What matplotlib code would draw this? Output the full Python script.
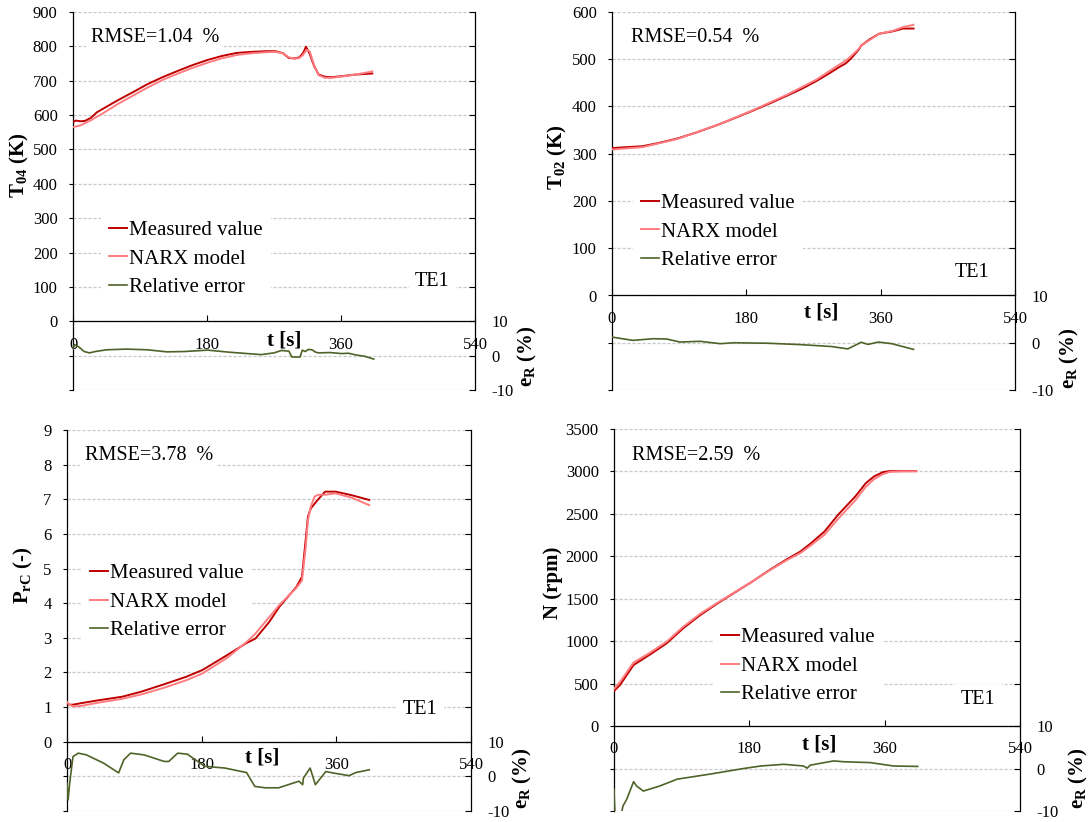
import matplotlib
matplotlib.use("Agg")
import matplotlib.pyplot as plt
import numpy as np

plt.rcParams["font.family"] = ["Liberation Serif", "DejaVu Serif"]
plt.rcParams["mathtext.fontset"] = "custom"
plt.rcParams["mathtext.rm"] = "Liberation Serif"
plt.rcParams["mathtext.it"] = "Liberation Serif:italic"
plt.rcParams["mathtext.bf"] = "Liberation Serif:bold"

# ---------------- data ----------------
x_ticks = [0, 180, 360, 540]
series_labels = ["Measured value", "NARX model", "Relative error"]
case_label = "TE1"

# T04 (K)
t04_t_meas = [0, 4, 10, 16, 24, 32, 40, 60, 80, 100, 120, 140, 160, 180, 200, 220, 240, 260,
              272, 282, 290, 298, 304, 309, 313, 318, 324, 330, 338, 346, 360, 380, 402]
t04_meas = [580, 584, 582, 583, 592, 608, 618, 643, 666, 690, 710, 728, 745, 760, 772, 781, 784, 786,
            786, 780, 766, 765, 768, 780, 799, 778, 742, 718, 712, 710, 713, 718, 721]
t04_t_narx = [0, 10, 24, 40, 60, 80, 100, 120, 140, 160, 180, 200, 220, 240, 260, 272, 282,
              290, 298, 304, 309, 314, 318, 324, 330, 338, 346, 360, 380, 402]
t04_narx = [565, 570, 585, 605, 632, 656, 680, 702, 720, 737, 752, 765, 775, 780, 783, 784, 780,
            768, 764, 766, 775, 790, 785, 745, 716, 709, 708, 712, 718, 727]
t04_t_err = [0, 2, 8, 15, 22, 30, 45, 72, 100, 126, 150, 181, 210, 240, 253, 270, 280, 290, 294,
             300, 305, 308, 312, 316, 321, 326, 330, 345, 361, 370, 380, 392, 404]
t04_err = [2.0, 3.2, 2.5, 1.2, 0.8, 1.2, 1.7, 1.9, 1.7, 1.1, 1.2, 1.6, 1.0, 0.5, 0.3, 0.8, 1.5, 1.3,
           -0.4, -0.4, -0.4, 1.6, 1.2, 1.8, 1.7, 1.0, 0.8, 0.9, 0.6, 0.7, 0.2, -0.2, -1.0]

# T02 (K)
t02_t_meas = [0, 20, 41, 60, 87, 115, 143, 170, 190, 215, 236, 255, 274, 290, 305, 313, 320, 326,
              330, 334, 345, 358, 376, 390, 404]
t02_meas = [312, 314, 316, 322, 332, 346, 362, 379, 392, 409, 424, 438, 454, 469, 484, 491, 501, 512,
            519, 529, 542, 554, 559, 565, 565]
t02_t_narx = [0, 41, 87, 143, 190, 236, 274, 297, 313, 320, 330, 334, 358, 376, 390, 404]
t02_narx = [309, 314, 331, 362, 393, 426, 457, 481, 497, 506, 521, 529, 554, 560, 568, 573]
t02_t_err = [0, 28, 55, 73, 91, 118, 145, 163, 208, 253, 294, 316, 334, 343, 357, 375, 404]
t02_err = [1.2, 0.5, 0.85, 0.8, 0.15, 0.3, -0.2, 0.0, -0.1, -0.4, -0.8, -1.3, 0.1, -0.35, 0.15, -0.2, -1.4]

# PrC (-)
prc_t_meas = [0, 3, 8, 18, 40, 74, 100, 130, 160, 181, 214, 240, 252, 270, 284, 307, 314, 319, 322,
              326, 335, 345, 359, 380, 404]
prc_meas = [1.10, 1.07, 1.07, 1.11, 1.19, 1.30, 1.45, 1.66, 1.88, 2.07, 2.50, 2.85, 2.98, 3.45, 3.90,
            4.48, 4.76, 5.82, 6.50, 6.74, 6.98, 7.22, 7.22, 7.12, 6.98]
prc_t_narx = [0, 3, 8, 18, 40, 74, 100, 130, 160, 181, 214, 240, 251, 284, 307, 314, 319, 322, 326,
              331, 336, 345, 359, 380, 404]
prc_narx = [1.15, 1.08, 1.02, 1.03, 1.12, 1.24, 1.37, 1.56, 1.78, 1.97, 2.42, 2.88, 3.10, 3.95, 4.45,
            4.65, 5.60, 6.40, 6.80, 7.08, 7.13, 7.13, 7.17, 7.05, 6.83]
prc_t_err = [0, 1.5, 3.6, 8, 15, 26, 49, 69, 76, 85, 103, 130, 136, 148, 161, 184, 211, 240, 251,
             265, 283, 310, 315, 316, 325, 332, 346, 355, 377, 386, 404]
prc_err = [-2.0, -6.8, -1.9, 5.7, 6.7, 6.2, 3.8, 1.0, 4.8, 6.7, 6.2, 4.3, 4.3, 6.7, 6.4, 2.9, 2.4,
           1.1, -2.9, -3.3, -3.3, -1.4, -2.4, -0.5, 2.4, -2.4, 1.4, 1.0, 0.2, 1.1, 1.9]

# N (rpm)
n_t_meas = [0, 8, 26, 47, 70, 92, 115, 138, 166, 184, 207, 230, 248, 262, 280, 298, 321, 335, 346,
            358, 367, 402]
n_meas = [413, 484, 720, 838, 975, 1152, 1310, 1447, 1604, 1703, 1840, 1966, 2057, 2155, 2293, 2489,
          2706, 2863, 2942, 2993, 3004, 3004]
n_t_narx = [0, 8, 26, 47, 70, 92, 115, 138, 166, 184, 207, 230, 248, 262, 280, 298, 321, 335, 346,
            358, 367, 380, 402]
n_narx = [440, 520, 750, 860, 995, 1170, 1325, 1455, 1608, 1703, 1835, 1955, 2040, 2130, 2255, 2440,
          2660, 2820, 2910, 2970, 2995, 3000, 3002]
n_t_err = [0, 0.5, 2, 8, 12, 17, 26, 30, 39, 61, 84, 128, 172, 195, 226, 252, 257, 261, 292, 306,
           341, 372, 404]
n_err = [-4.9, -7.6, -13.0, -12.0, -8.8, -7.2, -3.1, -4.1, -5.3, -4.1, -2.5, -1.3, 0.0, 0.6, 1.0, 0.6,
         0.1, 0.8, 1.8, 1.6, 1.4, 0.6, 0.5]

# ---------------- styling ----------------
C_MEAS = "#C00000"
C_NARX = "#FF7C80"
C_ERR = "#4F6228"
GRID = "#C8C8C8"

W, H = 1088, 822
fig = plt.figure(figsize=(W / 100, H / 100), dpi=100)


def fx(x):
    return x / W


def fy(y):
    return 1 - y / H


def panel(box, ymax, ystep, fmt, data, rmse_text, rmse_xy, case_xy,
          legend_xy, ylabel, ylabel_xy, elabel_xy, tlabel_xy):
    left, right, top, bottom = box
    ax = fig.add_axes([fx(left), fy(bottom), (right - left) / W, (bottom - top) / H])
    ndiv = int(round(ymax / ystep)) + 2
    ax.set_xlim(0, 540)
    ax.set_ylim(-2 * ystep, ymax)
    yt = np.arange(-2, ndiv - 1) * ystep
    ax.set_yticks(yt)
    ax.set_yticklabels(["" if v < 0 else fmt.format(v) for v in yt])
    ax.set_xticks(x_ticks)
    ax.set_xticklabels([str(v) for v in x_ticks])
    ax.yaxis.grid(True, color=GRID, linestyle=(0, (2.5, 1.5)), linewidth=0.9)
    ax.set_axisbelow(True)
    for s in ("top", "right"):
        ax.spines[s].set_visible(False)
    ax.spines["bottom"].set_position(("data", 0))
    ax.spines["left"].set_linewidth(0.9)
    ax.spines["bottom"].set_linewidth(0.9)
    ax.tick_params(axis="x", direction="in", length=4, width=0.8, pad=11, labelsize=12)
    ax.tick_params(axis="y", direction="out", length=3, width=0.8, pad=8, labelsize=12)

    t_m, y_m, t_n, y_n, t_e, y_e = data
    h1, = ax.plot(t_m, y_m, color=C_MEAS, lw=1.4, label=series_labels[0], zorder=3)
    h2, = ax.plot(t_n, y_n, color=C_NARX, lw=1.4, label=series_labels[1], zorder=3)

    ax2 = ax.twinx()
    ax2.set_ylim(-10, -10 + 10 * ndiv)
    et = np.arange(-10, -10 + 10 * ndiv + 1, 10)
    ax2.set_yticks(et)
    ax2.set_yticklabels([str(int(v)) if v <= 10 else "" for v in et])
    for s in ("top", "left", "bottom"):
        ax2.spines[s].set_visible(False)
    ax2.spines["right"].set_linewidth(0.9)
    ax2.tick_params(axis="y", direction="in", length=4, width=0.8, pad=12, labelsize=12)
    h3, = ax2.plot(t_e, y_e, color=C_ERR, lw=1.2, label=series_labels[2])

    # legend sits on the primary axes, above the grid but below the curves
    leg = ax.legend([h1, h2, h3], series_labels, loc="center left",
                    bbox_to_anchor=(fx(legend_xy[0]), fy(legend_xy[1])),
                    bbox_transform=fig.transFigure, fontsize=15, frameon=True,
                    fancybox=False, framealpha=1, edgecolor="none", facecolor="white",
                    handlelength=0.85, handletextpad=0.1, labelspacing=0.42,
                    borderaxespad=0, borderpad=0.4)
    leg.set_zorder(1)

    fig.text(fx(rmse_xy[0]), fy(rmse_xy[1]), rmse_text, ha="left", va="center", fontsize=14.5,
             bbox=dict(boxstyle="square,pad=0.25", fc="white", ec="none"))
    fig.text(fx(case_xy[0]), fy(case_xy[1]), case_label, ha="left", va="center", fontsize=14.5,
             bbox=dict(boxstyle="square,pad=0.3", fc="white", ec="none"))
    fig.text(fx(ylabel_xy[0]), fy(ylabel_xy[1]), ylabel, rotation=90, ha="center", va="center",
             fontsize=15, fontweight="bold")
    fig.text(fx(elabel_xy[0]), fy(elabel_xy[1]), r"e$_{\mathbf{R}}$ (%)", rotation=90,
             ha="center", va="center", fontsize=15, fontweight="bold")
    fig.text(fx(tlabel_xy[0]), fy(tlabel_xy[1]), "t [s]", ha="center", va="center",
             fontsize=15, fontweight="bold")
    return ax


panel((73, 475, 12, 390), 900, 100, "{:.0f}",
      (t04_t_meas, t04_meas, t04_t_narx, t04_narx, t04_t_err, t04_err),
      "RMSE=1.04  %", (91, 37), (415, 281), (101, 259),
      r"T$_{\mathbf{04}}$ (K)", (19, 165), (527, 356), (284, 340))

panel((612, 1015, 12, 390), 600, 100, "{:.0f}",
      (t02_t_meas, t02_meas, t02_t_narx, t02_narx, t02_t_err, t02_err),
      "RMSE=0.54  %", (631, 37), (955, 272), (633, 232),
      r"T$_{\mathbf{02}}$ (K)", (557, 157), (1069, 358), (821, 312))

panel((67, 471, 430, 811), 9, 1, "{:.0f}",
      (prc_t_meas, prc_meas, prc_t_narx, prc_narx, prc_t_err, prc_err),
      "RMSE=3.78  %", (85, 455), (403, 709), (82, 602),
      r"P$_{\mathbf{rC}}$ (-)", (23, 575), (522, 778), (262, 757))

panel((614, 1020, 429, 811), 3500, 500, "{:.0f}",
      (n_t_meas, n_meas, n_t_narx, n_narx, n_t_err, n_err),
      "RMSE=2.59  %", (632, 455), (961, 700), (713, 666),
      "N (rpm)", (553, 583), (1078, 778), (819, 745))

fig.savefig("out.png", dpi=100)
